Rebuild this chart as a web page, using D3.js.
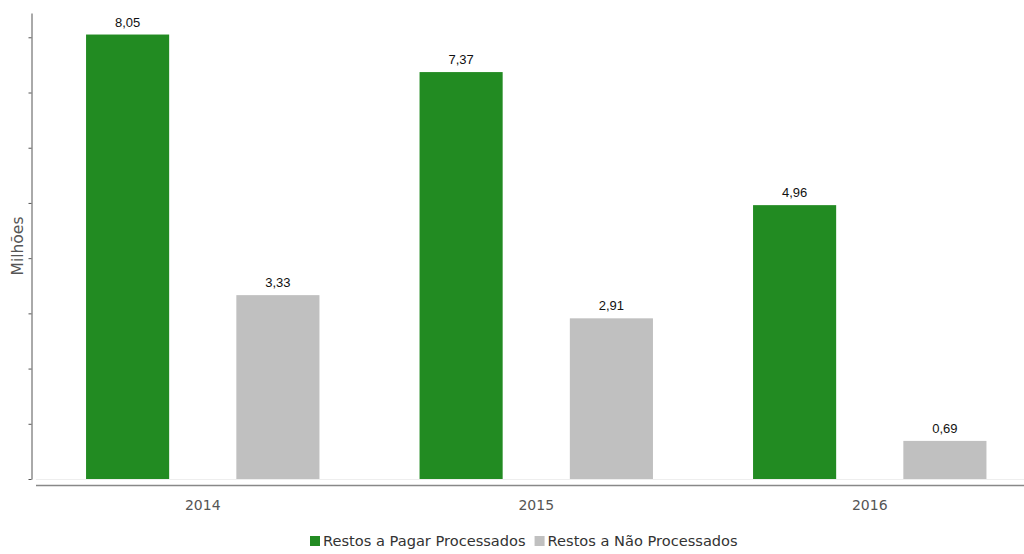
<!DOCTYPE html>
<html>
<head>
<meta charset="utf-8">
<script src="https://cdn.jsdelivr.net/npm/d3@7"></script>
<style>
	body { margin:0; background:#fff; }
	svg { display:block; }
	.yaxis path, .yaxis line { stroke:#555; }
	.xlab { font-family:Tahoma, 'DejaVu Sans', sans-serif; font-size:14px; fill:#555; }
	.val { font-family:'Liberation Sans Narrow', 'Arial Narrow', sans-serif; font-size:13px; fill:#111; }
	.leg { font-family:Tahoma, 'DejaVu Sans', sans-serif; font-size:14.6px; fill:#333; }
</style>
</head>
<body>
<div id="chart"></div>
<script>
var years = ['2014','2015','2016'],
	series = ['Restos a Pagar Processados','Restos a Não Processados'],
	colors = ['#228b22','#c0c0c0'],
	processados = [8.05, 7.37, 4.96],
	naoProcessados = [3.33, 2.91, 0.69],
	yTicks = [0,1,2,3,4,5,6,7,8];

var W = 1024, H = 554,
	svg = d3.select('#chart').append('svg').attr('width',W).attr('height',H);

var x = d3.scaleBand().domain(years).range([36,1036.5]),
	xs = d3.scaleBand().domain(series).range([0,x.bandwidth()]).paddingInner(0.447).paddingOuter(0.333),
	y = d3.scaleLinear().domain([0,8.44]).range([479,13]);

var rows = years.map(function(yr,i){
	return [{year:yr,s:0,v:processados[i]},{year:yr,s:1,v:naoProcessados[i]}];
});

// faint baseline + x axis line
svg.append('line').attr('x1',36).attr('x2',W).attr('y1',479.5).attr('y2',479.5).attr('stroke','#eee');
svg.append('line').attr('x1',36).attr('x2',W).attr('y1',485.5).attr('y2',485.5).attr('stroke','#888').attr('stroke-width',1.5);

svg.selectAll('.xlab')
	.data(years)
	.enter()
	.append('text')
		.attr('class','xlab')
		.attr('x',function(d){ return x(d)+x.bandwidth()/2; })
		.attr('y',510)
		.attr('text-anchor','middle')
		.text(function(d){ return d; });

// y axis, ticks only
svg.append('g')
	.attr('class','yaxis')
	.attr('transform','translate(31.5,0)')
	.call(d3.axisLeft(y).tickValues(yTicks).tickSize(3).tickSizeOuter(0).tickFormat(''));

svg.append('text')
	.attr('transform','translate(23,246) rotate(-90)')
	.attr('text-anchor','middle')
	.attr('class','xlab')
	.style('font-family','"DejaVu Sans", sans-serif')
	.style('font-size','15.5px')
	.text('Milhões');

var g = svg.selectAll('.grp')
	.data(rows)
	.enter()
	.append('g')
		.attr('class','grp')
		.attr('transform',function(d){ return 'translate('+x(d[0].year)+',0)'; });

g.selectAll('rect')
	.data(function(d){ return d; })
	.enter()
	.append('rect')
		.attr('x',function(d){ return xs(series[d.s]); })
		.attr('width',xs.bandwidth())
		.attr('y',function(d){ return y(d.v); })
		.attr('height',function(d){ return y(0)-y(d.v); })
		.attr('fill',function(d){ return colors[d.s]; });

g.selectAll('.val')
	.data(function(d){ return d; })
	.enter()
	.append('text')
		.attr('class','val')
		.attr('x',function(d){ return xs(series[d.s])+xs.bandwidth()/2; })
		.attr('y',function(d){ return y(d.v)-8; })
		.attr('text-anchor','middle')
		.text(function(d){ return d.v.toFixed(2).replace('.',','); });

// legend
var leg = svg.append('g').attr('transform','translate(310,546)'),
	lx = 0;
series.forEach(function(s,i){
	leg.append('rect').attr('x',lx).attr('y',-10).attr('width',10).attr('height',10).attr('fill',colors[i]);
	var t = leg.append('text').attr('class','leg').attr('x',lx+13).attr('y',0).text(s);
	lx += 13 + t.node().getComputedTextLength() + 9;
});
</script>
</body>
</html>
